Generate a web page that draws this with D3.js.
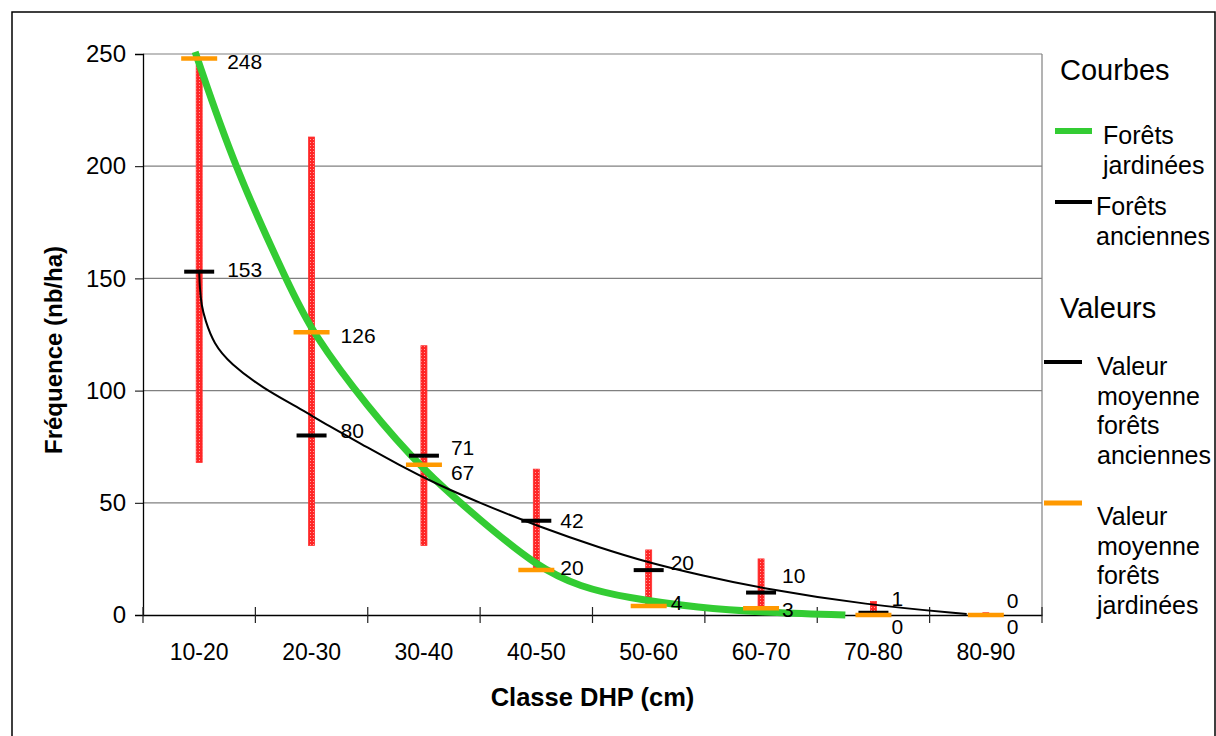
<!DOCTYPE html>
<html>
<head>
<meta charset="utf-8">
<script src="https://cdn.jsdelivr.net/npm/d3@7"></script>
<style>
  body { margin: 0; background: #fff; }
  text { font-family: "Liberation Sans", Arial, sans-serif; }
</style>
</head>
<body>
<div id="chart"></div>
<script>
// classes de diamètre
const classes = ["10-20", "20-30", "30-40", "40-50", "50-60", "60-70", "70-80", "80-90"];

// valeurs moyennes
const moyAnciennes = [153, 80, 71, 42, 20, 10, 1, 0];
const moyJardinees = [248, 126, 67, 20, 4, 3, 0, 0];

// étendue (min / max) par classe
const etendueMin = [68, 31, 31, 21, 5, 3, 0, 0];
const etendueMax = [245, 213, 120, 65, 29, 25, 6, 1];

// courbes (x en rang de classe, 0 = 10-20)
const courbeJardX = [-0.036, 0.31, 0.81, 1.01, 1.5, 1.99, 2.5, 3.01, 3.39, 3.81, 4.46, 4.99, 5.75];
const courbeJardY = [251, 200, 145.6, 125.5, 92.5, 64.6, 42.3, 21.4, 12.5, 7.6, 3.1, 1.3, 0];
const courbeAncX = [0, 0.005, 0.02, 0.053, 0.128, 0.276, 0.57, 0.87, 1.16, 1.43, 1.78, 2.11, 2.5, 3.03, 3.57, 4.01, 4.46, 4.99, 5.94, 6.83];
const courbeAncY = [153, 146, 138, 131.5, 121, 112, 101, 92.8, 84, 76.6, 66.8, 58.4, 49.9, 39.2, 29.9, 23.2, 17.8, 12, 4.5, 0.4];

const yTicks = [0, 50, 100, 150, 200, 250];

// décalages des étiquettes (mise en page)
const dxLab = [28, 29, 27, 24, 22, 21, 18, 21];
const dyAnc = [-2, -5, -8, 0, -8, -17, -14, -15];
const dyJard = [3, 3, 8, -3, -4, 1, 11, 11];

const W = 1216, H = 736;
const plotLeft = 143, plotTop = 54, plotRight = 1042, plotBottom = 615;

const svg = d3.select("#chart").append("svg")
    .attr("width", W)
    .attr("height", H);

// cadre extérieur
svg.append("rect")
    .attr("x", 12).attr("y", 12)
    .attr("width", 1203).attr("height", 760)
    .attr("fill", "none")
    .attr("stroke", "#000")
    .attr("stroke-width", 1.5);

const x = d3.scaleBand().domain(classes).range([plotLeft, plotRight]);
const xi = d3.scaleLinear().domain([-0.5, classes.length - 0.5]).range([plotLeft, plotRight]);
const y = d3.scaleLinear().domain([0, 250]).range([plotBottom, plotTop]);

// motif des barres
const pat = svg.append("defs").append("pattern")
    .attr("id", "pointille")
    .attr("width", 3).attr("height", 3)
    .attr("patternUnits", "userSpaceOnUse");
pat.append("rect").attr("width", 3).attr("height", 3).attr("fill", "#ff2626");
pat.append("rect").attr("x", 1).attr("y", 1).attr("width", 1).attr("height", 1).attr("fill", "#ffa0a0");

// grille
svg.append("g")
    .selectAll("line")
    .data(yTicks.filter(d => d > 0))
    .join("line")
    .attr("x1", plotLeft).attr("x2", plotRight)
    .attr("y1", d => y(d)).attr("y2", d => y(d))
    .attr("stroke", "#808080")
    .attr("stroke-width", 1.2);

svg.append("line")
    .attr("x1", plotRight).attr("x2", plotRight)
    .attr("y1", plotTop).attr("y2", plotBottom)
    .attr("stroke", "#808080")
    .attr("stroke-width", 1.2);

// axe Y
const yAxis = svg.append("g")
    .attr("transform", `translate(${plotLeft},0)`)
    .call(d3.axisLeft(y).tickValues(yTicks).tickSize(8).tickPadding(9));
yAxis.select(".domain").attr("stroke", "#000").attr("stroke-width", 1.3);
yAxis.selectAll(".tick line").attr("stroke", "#000");
yAxis.selectAll("text")
    .style("font-size", "24px")
    .attr("fill", "#000");

// axe X
const xAxis = svg.append("g")
    .attr("transform", `translate(0,${plotBottom})`)
    .call(d3.axisBottom(x).tickSize(0).tickPadding(29));
xAxis.select(".domain").attr("stroke", "#000").attr("stroke-width", 1.3);
xAxis.selectAll("text")
    .style("font-size", "23px")
    .attr("fill", "#000");

svg.append("g")
    .selectAll("line")
    .data(d3.range(classes.length + 1))
    .join("line")
    .attr("x1", d => xi(d - 0.5)).attr("x2", d => xi(d - 0.5))
    .attr("y1", plotBottom - 8).attr("y2", plotBottom + 8)
    .attr("stroke", "#222")
    .attr("stroke-width", 1.2);

// titres des axes
svg.append("text")
    .attr("x", (plotLeft + plotRight) / 2)
    .attr("y", 706)
    .attr("text-anchor", "middle")
    .style("font-size", "25.5px")
    .style("font-weight", "bold")
    .text("Classe DHP (cm)");

svg.append("text")
    .attr("transform", "translate(62,350) rotate(-90)")
    .attr("text-anchor", "middle")
    .style("font-size", "24px")
    .style("font-weight", "bold")
    .text("Fréquence (nb/ha)");

// barres d'étendue
svg.append("g")
    .selectAll("rect")
    .data(classes)
    .join("rect")
    .attr("x", (d, i) => xi(i) - 3)
    .attr("width", 6)
    .attr("y", (d, i) => y(etendueMax[i]))
    .attr("height", (d, i) => Math.max(1.5, y(etendueMin[i]) - y(etendueMax[i])))
    .attr("fill", "url(#pointille)")
    .attr("stroke", "#ff3030")
    .attr("stroke-width", 0.8);

// courbes
const line = d3.line()
    .x(d => xi(d[0]))
    .y(d => y(d[1]))
    .curve(d3.curveBasis);

svg.append("path")
    .datum(courbeJardX.map((v, i) => [v, courbeJardY[i]]))
    .attr("d", line)
    .attr("fill", "none")
    .attr("stroke", "#33cc33")
    .attr("stroke-width", 7);

svg.append("path")
    .datum(courbeAncX.map((v, i) => [v, courbeAncY[i]]))
    .attr("d", line)
    .attr("fill", "none")
    .attr("stroke", "#000")
    .attr("stroke-width", 2);

// repères des moyennes
svg.append("g")
    .selectAll("line")
    .data(moyAnciennes)
    .join("line")
    .attr("x1", (d, i) => xi(i) - 15).attr("x2", (d, i) => xi(i) + 15)
    .attr("y1", d => y(d)).attr("y2", d => y(d))
    .attr("stroke", "#000")
    .attr("stroke-width", 4);

svg.append("g")
    .selectAll("line")
    .data(moyJardinees)
    .join("line")
    .attr("x1", (d, i) => xi(i) - 18).attr("x2", (d, i) => xi(i) + 18)
    .attr("y1", d => y(d)).attr("y2", d => y(d))
    .attr("stroke", "#ff9900")
    .attr("stroke-width", 4.5);

// étiquettes
svg.append("g")
    .selectAll("text")
    .data(moyAnciennes)
    .join("text")
    .attr("x", (d, i) => xi(i) + dxLab[i])
    .attr("y", (d, i) => y(d) + dyAnc[i])
    .attr("dy", "0.36em")
    .style("font-size", "21px")
    .text(d => d);

svg.append("g")
    .selectAll("text")
    .data(moyJardinees)
    .join("text")
    .attr("x", (d, i) => xi(i) + dxLab[i])
    .attr("y", (d, i) => y(d) + dyJard[i])
    .attr("dy", "0.36em")
    .style("font-size", "21px")
    .text(d => d);

// légende
const leg = svg.append("g");
leg.append("text").attr("x", 1060).attr("y", 80).style("font-size", "29px").text("Courbes");
leg.append("text").attr("x", 1060).attr("y", 318).style("font-size", "29px").text("Valeurs");

const legItems = [
    { x1: 1055, x2: 1092, y: 131, color: "#33cc33", w: 6, tx: 1103, ty: 144, lines: ["Forêts", "jardinées"] },
    { x1: 1055, x2: 1092, y: 202, color: "#000", w: 4, tx: 1096, ty: 215, lines: ["Forêts", "anciennes"] },
    { x1: 1044, x2: 1082, y: 362, color: "#000", w: 4, tx: 1097, ty: 375, lines: ["Valeur", "moyenne", "forêts", "anciennes"] },
    { x1: 1044, x2: 1082, y: 503, color: "#ff9900", w: 5, tx: 1097, ty: 525, lines: ["Valeur", "moyenne", "forêts", "jardinées"] }
];

legItems.forEach(it => {
    leg.append("line")
        .attr("x1", it.x1).attr("x2", it.x2)
        .attr("y1", it.y).attr("y2", it.y)
        .attr("stroke", it.color)
        .attr("stroke-width", it.w);
    leg.append("text")
        .attr("x", it.tx).attr("y", it.ty)
        .style("font-size", "25px")
        .selectAll("tspan")
        .data(it.lines)
        .join("tspan")
        .attr("x", it.tx)
        .attr("dy", (d, i) => i === 0 ? 0 : 29.5)
        .text(d => d);
});
</script>
</body>
</html>
